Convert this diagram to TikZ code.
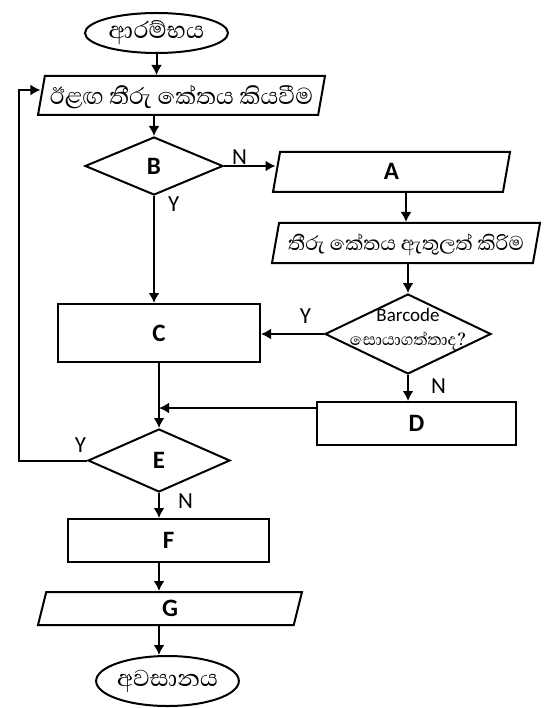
\documentclass[tikz,border=0pt]{standalone}
\usepackage{fontspec}
\setmainfont{Carlito}
\newfontfamily\sinhala[Script=Sinhala]{Abhaya Libre}
\usepackage{tikz}
\usetikzlibrary{shapes.geometric,arrows.meta,positioning}

\begin{document}
\begin{tikzpicture}[
    x = 1pt, y = -1pt,
    line width = 2pt,
    every node/.style = {inner sep=0pt},
    arr/.style  = {draw, -{Latex[length=10pt,width=11pt]}},
    box/.style  = {draw, rectangle, font=\fontsize{25}{30}\selectfont\bfseries},
    io/.style   = {draw, trapezium, trapezium left angle=80, trapezium right angle=100, trapezium stretches body=true},
    dec/.style  = {draw, diamond, font=\fontsize{25}{30}\selectfont\bfseries},
    term/.style = {draw, ellipse},
    lbl/.style  = {font=\fontsize{23}{28}\selectfont},
    sin/.style  = {font=\sinhala\fontsize{#1}{#1}\selectfont}
  ]
\useasboundingbox (0,0) rectangle (548,708);

\node[term, sin=30, minimum width=143pt, minimum height=40pt] (start) at (156.5,33) {ආරම්භය};
\node[io, sin=29.5, text height=28.5pt, text depth=10.5pt, minimum width=287pt] (read) at (181.5,95.5) {ඊළඟ තීරු කේතය කියවීම};
\node[dec, minimum width=138pt, minimum height=58pt] (B) at (154,166) {B};
\node[io, font=\fontsize{25}{30}\selectfont\bfseries, text height=27.9pt, text depth=12.1pt, minimum width=237pt] (A) at (391.5,172) {A};
\node[io, sin=25.5, text height=27.6pt, text depth=12.4pt, minimum width=268pt] (enter) at (406,243) {තීරු කේතය ඇතුලත් කිරිම};
\node[dec, minimum width=166pt, minimum height=80pt] (bc) at (408,334) {};
\node[align=center, font=\fontsize{19}{24}\selectfont] (bcq) at ([yshift=5pt]bc.center) {Barcode\\{\sinhala\fontsize{21}{24}\selectfont සොයාගත්තාද?}};
\node[box, minimum width=202pt, minimum height=58pt] (C) at (159,333) {C};
\node[box, minimum width=199pt, minimum height=43pt] (D) at (416.5,423.5) {D};
\node[dec, minimum width=142pt, minimum height=63pt] (E) at (159,460.5) {E};
\node[box, minimum width=201pt, minimum height=43pt] (F) at (168.5,540.5) {F};
\node[io, trapezium left angle=76, trapezium right angle=104, font=\fontsize{25}{30}\selectfont\bfseries, text height=24.4pt, text depth=8.6pt, minimum width=264pt] (G) at (170,608.5) {G};
\node[term, sin=29.5, minimum width=139pt, minimum height=50pt] (stop) at (167.5,681) {අවසානය};

\coordinate (join) at (159,408);
\coordinate (back) at (19,90);

\draw[arr] (start.south) -- (start.south |- read.north);
\draw[arr] (read.south -| B.north) -- (B.north);
\draw[arr] (B.east) -- (B.east -| A.west);
\draw[arr] (B.south) -- (B.south |- C.north);
\draw[arr] (A.south -| enter.north) -- (enter.north);
\draw[arr] (enter.south -| bc.north) -- (bc.north);
\draw[arr] (bc.west) -- (bc.west -| C.east);
\draw[arr] (bc.south) -- (bc.south |- D.north);
\draw[arr] (C.south) -- (E.north);
\draw[arr] (D.west |- join) -- (join);
\draw[arr] (E.west) -| (back) -- (back -| read.west);
\draw[arr] (E.south) -- (E.south |- F.north);
\draw[arr] (F.south -| E.south) -- (E.south |- G.north);
\draw[arr] (G.south -| E.south) -- (E.south |- stop.north);

\node[lbl, above right=0pt and 7pt of B.east] (nB) {N};
\node[lbl, below right=0pt and 13pt of B.south] (yB) {Y};
\node[lbl, above left=10pt and 12pt of bc.west] (ybc) {Y};
\node[lbl, below right=3pt and 22pt of bc.south] (nbc) {N};
\node[lbl, above left=7pt and 0pt of E.west] (yE) {Y};
\node[lbl, below right=0pt and 18pt of E.south] (nE) {N};
\end{tikzpicture}
\end{document}
